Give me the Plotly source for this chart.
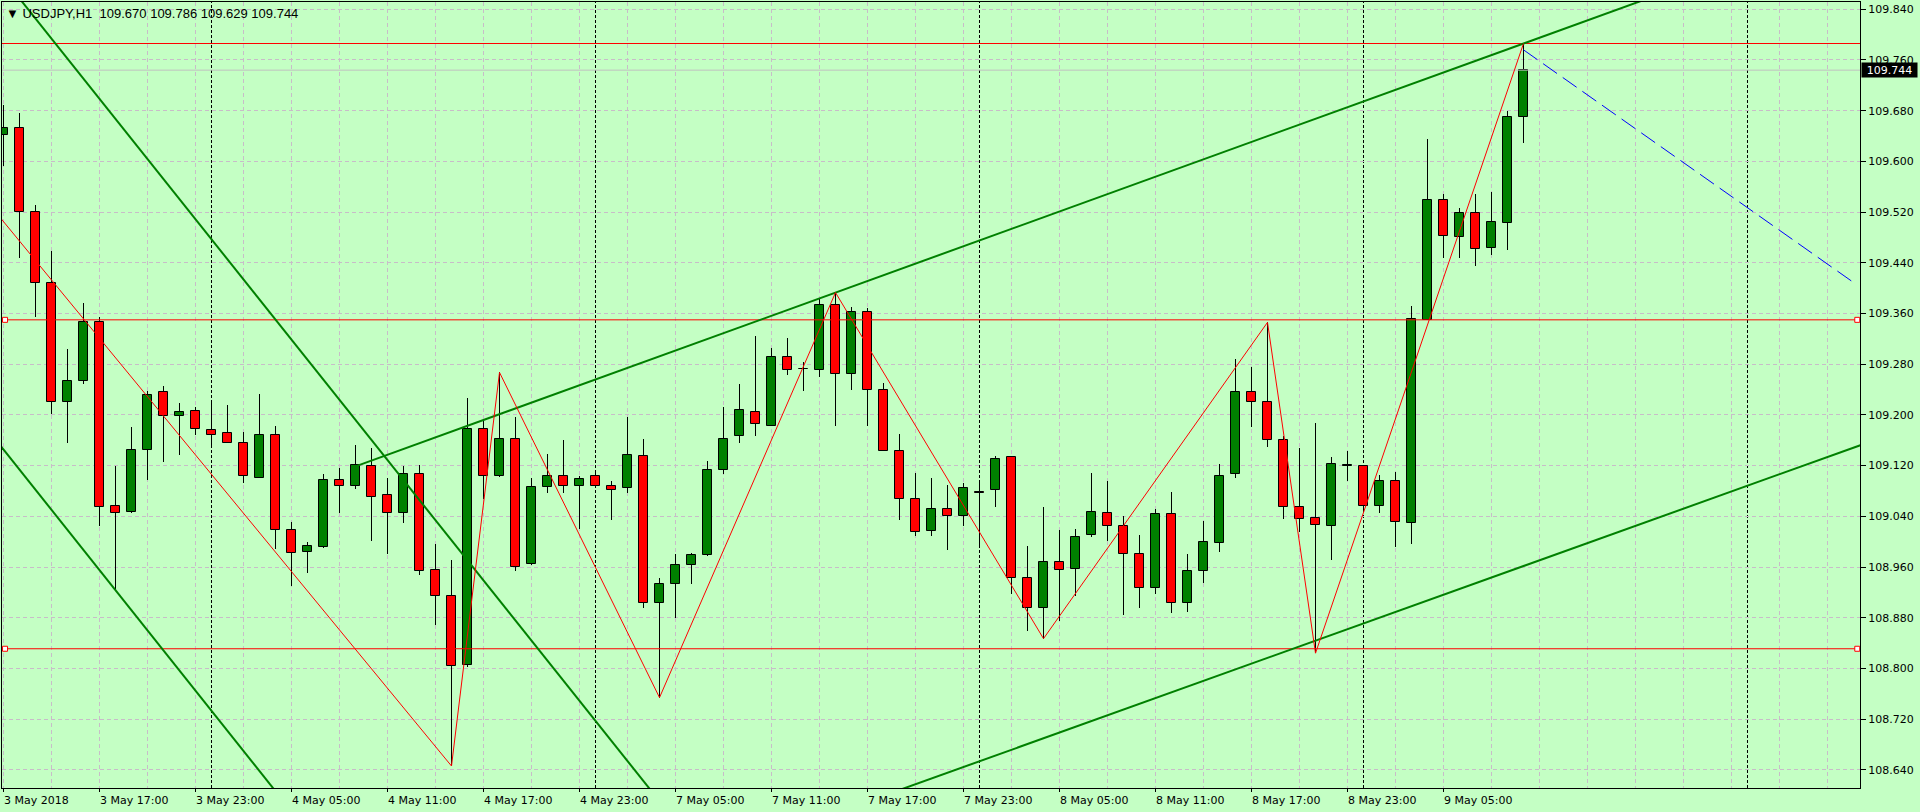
import plotly.graph_objects as go

# USDJPY H1 bars, 3 May 2018 11:00 .. 9 May 2018 10:00, one entry per bar
opens = [109.641, 109.652, 109.520, 109.408, 109.221, 109.253, 109.346, 109.056, 109.047, 109.144,
         109.236, 109.199, 109.206, 109.176, 109.171, 109.155, 109.101, 109.169, 109.018, 108.983,
         108.991, 109.098, 109.088, 109.120, 109.073, 109.046, 109.107, 108.956, 108.914, 108.805,
         109.178, 109.103, 109.162, 108.964, 109.087, 109.104, 109.088, 109.104, 109.088, 109.084,
         109.135, 108.903, 108.933, 108.963, 108.979, 109.113, 109.167, 109.205, 109.183, 109.292,
         109.272, 109.271, 109.374, 109.265, 109.363, 109.240, 109.143, 109.068, 109.017, 109.052,
         109.041, 109.078, 109.081, 109.133, 108.942, 108.896, 108.968, 108.957, 109.010, 109.046,
         109.025, 108.980, 108.927, 109.043, 108.904, 108.953, 108.998, 109.106, 109.236, 109.221,
         109.160, 109.054, 109.037, 109.024, 109.120, 109.119, 109.056, 109.095, 109.029, 109.350,
         109.539, 109.481, 109.519, 109.463, 109.503, 109.670]
highs = [109.689, 109.677, 109.531, 109.458, 109.304, 109.376, 109.355, 109.119, 109.181, 109.238,
         109.245, 109.219, 109.212, 109.219, 109.216, 109.173, 109.233, 109.182, 109.031, 108.999,
         109.106, 109.117, 109.153, 109.148, 109.100, 109.119, 109.121, 108.996, 108.971, 109.227,
         109.192, 109.267, 109.197, 109.100, 109.138, 109.160, 109.104, 109.112, 109.096, 109.197,
         109.162, 108.943, 108.980, 108.982, 109.128, 109.213, 109.249, 109.324, 109.306, 109.322,
         109.283, 109.384, 109.393, 109.371, 109.369, 109.251, 109.170, 109.108, 109.101, 109.090,
         109.093, 109.096, 109.135, 109.133, 108.993, 109.054, 109.018, 109.020, 109.108, 109.096,
         109.040, 109.011, 109.051, 109.079, 108.980, 109.032, 109.123, 109.288, 109.275, 109.346,
         109.166, 109.148, 109.187, 109.133, 109.143, 109.119, 109.105, 109.110, 109.372, 109.636,
         109.549, 109.527, 109.549, 109.551, 109.680, 109.786]
lows = [109.592, 109.448, 109.355, 109.202, 109.155, 109.248, 109.025, 108.926, 109.046, 109.098,
        109.125, 109.136, 109.169, 109.149, 109.156, 109.093, 109.100, 108.989, 108.930, 108.950,
        108.990, 109.045, 109.083, 109.001, 108.981, 109.030, 108.947, 108.868, 108.646, 108.803,
        109.067, 109.102, 108.954, 108.963, 109.077, 109.077, 109.020, 109.088, 109.034, 109.076,
        108.896, 108.754, 108.879, 108.933, 108.977, 109.107, 109.156, 109.167, 109.183, 109.263,
        109.238, 109.260, 109.182, 109.239, 109.182, 109.143, 109.034, 109.009, 109.009, 108.987,
        109.025, 108.994, 109.054, 108.918, 108.859, 108.847, 108.875, 108.914, 109.008, 109.001,
        108.885, 108.896, 108.918, 108.888, 108.889, 108.934, 108.984, 109.100, 109.181, 109.150,
        109.035, 109.016, 108.824, 108.971, 109.095, 109.045, 109.046, 108.992, 108.997, 109.350,
        109.448, 109.447, 109.435, 109.453, 109.460, 109.629]
closes = [109.652, 109.520, 109.408, 109.221, 109.253, 109.346, 109.054, 109.046, 109.145, 109.232,
          109.199, 109.205, 109.177, 109.169, 109.156, 109.103, 109.169, 109.019, 108.982, 108.993,
          109.097, 109.088, 109.121, 109.071, 109.046, 109.107, 108.953, 108.915, 108.804, 109.178,
          109.103, 109.162, 108.960, 109.087, 109.104, 109.088, 109.099, 109.088, 109.082, 109.137,
          108.904, 108.933, 108.963, 108.979, 109.113, 109.162, 109.208, 109.185, 109.292, 109.271,
          109.273, 109.373, 109.264, 109.363, 109.240, 109.143, 109.068, 109.015, 109.052, 109.041,
          109.085, 109.077, 109.131, 108.942, 108.896, 108.968, 108.956, 109.008, 109.047, 109.025,
          108.980, 108.927, 109.043, 108.904, 108.953, 109.000, 109.104, 109.236, 109.221, 109.161,
          109.054, 109.035, 109.026, 109.122, 109.121, 109.057, 109.095, 109.031, 109.351, 109.539,
          109.482, 109.519, 109.462, 109.505, 109.670, 109.744]

time_labels = ["3 May 2018", "3 May 17:00", "3 May 23:00", "4 May 05:00", "4 May 11:00",
               "4 May 17:00", "4 May 23:00", "7 May 05:00", "7 May 11:00", "7 May 17:00",
               "7 May 23:00", "8 May 05:00", "8 May 11:00", "8 May 17:00", "8 May 23:00",
               "9 May 05:00"]
label_bars = [0, 6, 12, 18, 24, 30, 36, 42, 48, 54, 60, 66, 72, 78, 84, 90]
day_breaks = [13, 37, 61, 85, 109]   # bar of 00:00 each day
price_ticks = [108.64, 108.72, 108.80, 108.88, 108.96, 109.04, 109.12, 109.20,
               109.28, 109.36, 109.44, 109.52, 109.60, 109.68, 109.76, 109.84]

# zigzag: first point lies off screen to the left, then pivots (bar, H/L)
zz_first = (-3, 109.597)
zz_bars = [28, 31, 41, 52, 65, 79, 82, 95]
zz_kind = ["L", "H", "L", "H", "L", "H", "L", "H"]

# trend lines, two anchors each: (bar, price)
down_upper = [(4.57, 109.744), (40.29, 108.613)]
down_lower = [(-0.02, 109.146), (16.82, 108.612)]
chan_upper = [(52, 109.393), (95, 109.786)]
chan_lower = [(56.64, 108.614), (115.7, 109.149)]
forecast = [(95, 109.776), (115.57, 109.410)]

hlines_red = [109.786, 109.350, 108.831]
marked_lines = [109.350, 108.831]
bid = 109.744
header = "▼ USDJPY,H1\u00a0\u00a0109.670 109.786 109.629 109.744"

BG = "rgb(196,255,196)"
GRID = "#C8BCC8"
GREEN = "#008000"
RED = "#FF0000"
X_RANGE = [-0.09375, 116.03125]
Y_RANGE = [108.6113, 109.8515]


def extend(anchors, x0, x1):
    (xa, ya), (xb, yb) = anchors
    k = (yb - ya) / (xb - xa)
    return [x0, x1], [ya + k * (x0 - xa), ya + k * (x1 - xa)]


n = len(opens)
bars = list(range(n))
fig = go.Figure()

# wicks (thin bars so that bodies cover them)
fig.add_trace(go.Bar(x=bars, y=[h - l for h, l in zip(highs, lows)], base=lows,
                     width=0.9 / 16, marker=dict(color="black", line=dict(width=0)),
                     hoverinfo="skip"))

for up, color in [(True, GREEN), (False, RED)]:
    idx = [i for i in bars if (closes[i] >= opens[i]) == up]
    fig.add_trace(go.Bar(
        x=idx,
        y=[abs(closes[i] - opens[i]) for i in idx],
        base=[min(opens[i], closes[i]) for i in idx],
        width=0.6,
        marker=dict(color=color, line=dict(color="black", width=1)),
        hoverinfo="skip",
    ))

# horizontal lines
for p in hlines_red:
    fig.add_trace(go.Scatter(x=X_RANGE, y=[p, p], mode="lines",
                             line=dict(color=RED, width=1), hoverinfo="skip"))
fig.add_trace(go.Scatter(x=X_RANGE, y=[bid, bid], mode="lines",
                         line=dict(color="#C0C0C0", width=1), hoverinfo="skip"))
fig.add_trace(go.Scatter(
    x=[X_RANGE[0] + 0.19 for _ in marked_lines] + [X_RANGE[1] - 0.17 for _ in marked_lines],
    y=marked_lines + marked_lines, mode="markers",
    marker=dict(symbol="square", size=5, color="white", line=dict(color=RED, width=1)),
    hoverinfo="skip"))

# trend lines
for anchors, x0, x1 in [(down_upper, -5, 60), (down_lower, -5, 40),
                        (chan_upper, 22, 130), (chan_lower, 40, 130)]:
    xs, ys = extend(anchors, x0, x1)
    fig.add_trace(go.Scatter(x=xs, y=ys, mode="lines",
                             line=dict(color=GREEN, width=2), hoverinfo="skip"))

# zigzag
zx = [zz_first[0]] + zz_bars
zy = [zz_first[1]] + [highs[b] if k == "H" else lows[b] for b, k in zip(zz_bars, zz_kind)]
fig.add_trace(go.Scatter(x=zx, y=zy, mode="lines",
                         line=dict(color=RED, width=1), hoverinfo="skip"))

fig.add_trace(go.Scatter(x=[p[0] for p in forecast], y=[p[1] for p in forecast], mode="lines",
                         line=dict(color="#0000FF", width=1, dash="17px,7px"), hoverinfo="skip"))

for b in day_breaks:
    fig.add_shape(type="line", xref="x", yref="paper", x0=b, x1=b, y0=0, y1=1,
                  line=dict(color="black", width=1, dash="3px,2px"), layer="below")

for b, t in zip(label_bars, time_labels):
    fig.add_annotation(x=b, y=0, xref="x", yref="paper", text=t, showarrow=False,
                       xanchor="left", yanchor="top", yshift=-4, xshift=-2,
                       font=dict(size=11, color="black"))

fig.add_annotation(x=0, y=1, xref="paper", yref="paper", text=header, showarrow=False,
                   xanchor="left", yanchor="top", xshift=2, yshift=-2,
                   font=dict(family="Liberation Sans", size=13, color="black"))

fig.add_annotation(x=1, y=bid, xref="paper", yref="y", text=f"{bid:.3f}", showarrow=False,
                   xanchor="left", yanchor="middle", xshift=1, bgcolor="black", borderpad=0,
                   width=55, height=14, font=dict(size=11, color="white"))

minor_grid = [v for v in range(3, 115, 3) if v not in label_bars]

fig.update_layout(
    width=1920, height=812,
    margin=dict(l=2, r=60, t=2, b=24, pad=0),
    paper_bgcolor=BG, plot_bgcolor=BG,
    barmode="overlay", bargap=0, bargroupgap=0,
    showlegend=False,
    font=dict(family="DejaVu Sans", size=11, color="black"),
    xaxis=dict(range=X_RANGE, tickmode="array", tickvals=label_bars, showticklabels=False,
               ticks="outside", ticklen=3, tickcolor="black",
               showgrid=True, gridcolor=GRID, griddash="4px,3px", gridwidth=1,
               zeroline=False, showline=True, mirror=True, linecolor="black", linewidth=1,
               minor=dict(tickmode="array", tickvals=minor_grid, ticks="",
                          showgrid=True, gridcolor=GRID, griddash="4px,3px", gridwidth=1)),
    yaxis=dict(range=Y_RANGE, side="right", tickmode="array", tickvals=price_ticks,
               ticktext=[f"{p:.3f}" for p in price_ticks],
               ticks="outside", ticklen=5, tickcolor="black",
               showgrid=True, gridcolor=GRID, griddash="4px,3px", gridwidth=1,
               zeroline=False, showline=True, mirror=True, linecolor="black", linewidth=1),
)

fig.write_html("out.html", config={"displayModeBar": False},
               post_script="document.body.style.margin='0px';document.body.style.overflow='hidden';")
